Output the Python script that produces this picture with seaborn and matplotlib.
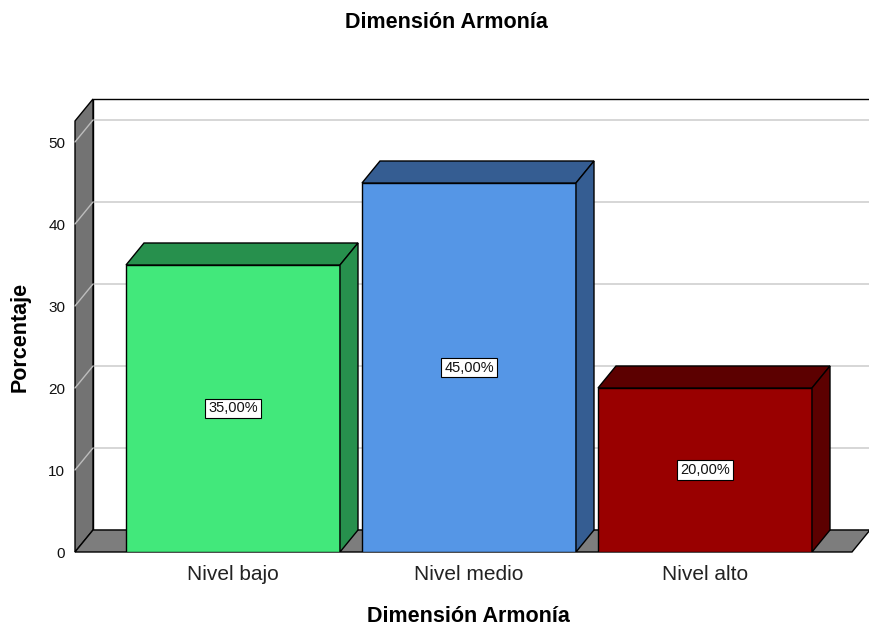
import numpy as np
import matplotlib
matplotlib.use("Agg")
import matplotlib.pyplot as plt
from matplotlib.patches import Polygon
import seaborn as sns

# datos del grafico
categorias = ["Nivel bajo", "Nivel medio", "Nivel alto"]
porcentajes = [35.0, 45.0, 20.0]
etiquetas = ["35,00%", "45,00%", "20,00%"]
colores_frente = ["#42E87B", "#5596E6", "#990000"]
colores_lado = ["#27904D", "#355D92", "#5C0000"]
y_ticks = [0, 10, 20, 30, 40, 50]

sns.set_theme(style="white")
plt.rcParams["font.family"] = ["Liberation Sans", "DejaVu Sans"]

fig = plt.figure(figsize=(8.7, 6.28), dpi=100)
# area de ejes en pixeles: x 75..870, y 99..552
ax = fig.add_axes([75 / 870, (628 - 552) / 628, 795 / 870, 453 / 628])

px_x = 236.0          # pixeles por categoria
px_y = 8.2            # pixeles por unidad
x0 = -(233 - 75) / px_x
x1 = 2 + (870 - 705) / px_x
ytop = (552 - 99) / px_y
dx = 18 / px_x
dy = 22 / px_y
xr = x1 - dx

sns.barplot(x=categorias, y=porcentajes, hue=categorias, palette=colores_frente,
            width=214 / px_x, edgecolor="black", linewidth=1, saturation=1,
            legend=False, ax=ax, zorder=2)

# pared del fondo
ax.add_patch(Polygon([(x0 + dx, dy), (x1 + 1, dy), (x1 + 1, ytop), (x0 + dx, ytop)],
                     closed=True, fc="white", ec="black", lw=1, zorder=0, clip_on=False))
for v in y_ticks[1:]:
    ax.plot([x0 + dx, x1], [v + dy, v + dy], color="#cfcfcf", lw=1.2, zorder=0.1)
# pared izquierda
ax.add_patch(Polygon([(x0, 0), (x0 + dx, dy), (x0 + dx, ytop), (x0, ytop - dy)],
                     closed=True, fc="#737373", ec="black", lw=1, zorder=0.2, clip_on=False))
for v in y_ticks[1:]:
    ax.plot([x0, x0 + dx], [v, v + dy], color="#bdbdbd", lw=1, zorder=0.3, clip_on=False)
# suelo
ax.add_patch(Polygon([(x0, 0), (xr, 0), (x1, dy), (x0 + dx, dy)],
                     closed=True, fc="#7d7d7d", ec="black", lw=1, zorder=0.2, clip_on=False))

for p, lado, txt in zip(ax.patches[:3], colores_lado, etiquetas):
    x, w, h = p.get_x(), p.get_width(), p.get_height()
    ax.add_patch(Polygon([(x, h), (x + dx, h + dy), (x + w + dx, h + dy), (x + w, h)],
                         closed=True, fc=lado, ec="black", lw=1, zorder=2))
    ax.add_patch(Polygon([(x + w, 0), (x + w + dx, dy), (x + w + dx, h + dy), (x + w, h)],
                         closed=True, fc=lado, ec="black", lw=1, zorder=2))
    ax.text(x + w / 2, h / 2, txt, ha="center", va="center", fontsize=10.5, zorder=3,
            color="#111111",
            bbox=dict(boxstyle="square,pad=0.2", fc="white", ec="black", lw=0.8))

ax.set_xlim(x0, x1)
ax.set_ylim(0, ytop)
for s in ax.spines.values():
    s.set_visible(False)
ax.set_yticks(y_ticks)
ax.set_yticklabels([str(t) for t in y_ticks], fontsize=11, color="#111111")
ax.tick_params(axis="y", length=0, pad=7)
ax.tick_params(axis="x", length=0, pad=9, labelsize=15, labelcolor="#222222")
ax.set_xlabel("")
ax.set_ylabel("")

fig.text(446 / 870, 1 - 23 / 628, "Dimensión Armonía", ha="center", va="center",
         fontsize=15.5, fontweight="bold", color="black")
fig.text(468 / 870, 1 - 617 / 628, "Dimensión Armonía", ha="center", va="center",
         fontsize=15.5, fontweight="bold", color="black")
fig.text(20 / 870, 1 - 337 / 628, "Porcentaje", ha="center", va="center",
         fontsize=15.5, fontweight="bold", rotation=90, color="black")

fig.savefig("out.png", dpi=100)
